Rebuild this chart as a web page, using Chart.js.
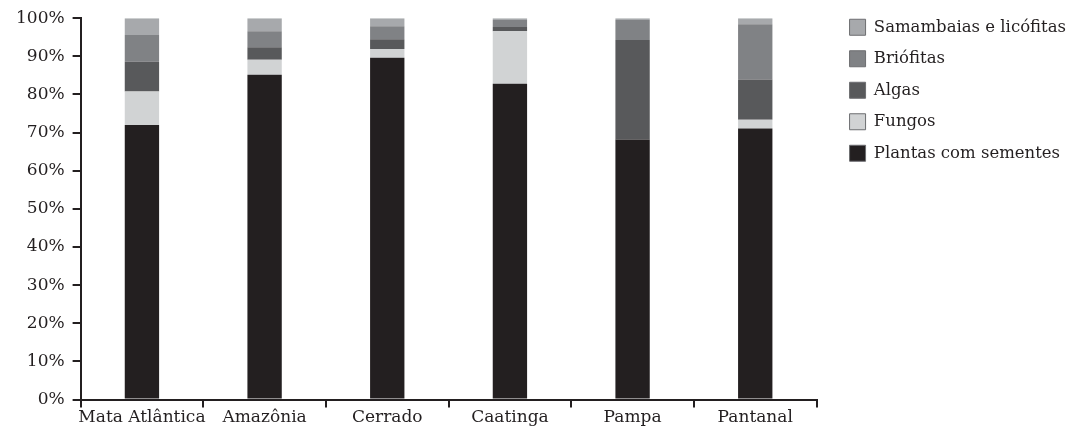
<!DOCTYPE html>
<html>
<head>
<meta charset="utf-8">
<script src="https://cdn.jsdelivr.net/npm/chart.js@4"></script>
<style>
  html, body { margin: 0; padding: 0; background: #fff; }
  #wrap { width: 1070px; height: 428px; }
</style>
</head>
<body>
<div id="wrap"><canvas id="chart" width="1070" height="428"></canvas></div>
<script>
const biomes = ['Mata Atlântica', 'Amazônia', 'Cerrado', 'Caatinga', 'Pampa', 'Pantanal'];

// percentages, bottom to top
const plantas = [72.0, 85.2, 89.6, 82.8, 68.2, 71.1];
const fungos = [8.8, 3.9, 2.3, 13.8, 0.0, 2.3];
const algas = [7.8, 3.3, 2.6, 1.1, 26.1, 10.5];
const briofitas = [7.0, 4.2, 3.4, 1.8, 5.2, 14.5];
const samambaias = [4.4, 3.4, 2.1, 0.5, 0.5, 1.6];

const yTicks = [0, 10, 20, 30, 40, 50, 60, 70, 80, 90, 100];

const font = {family: '"DejaVu Serif", serif', size: 17};
const legendFont = {family: '"DejaVu Serif", serif', size: 16.5};
Chart.defaults.color = '#231f20';

function bar(label, data, color) {
    return {
        label: label,
        data: data,
        backgroundColor: color,
        borderWidth: 0,
        categoryPercentage: 1,
        barPercentage: 0.28
    };
}

// push the legend a bit right/up so it sits where the original has it
const legendNudge = {
    id: 'legendNudge',
    afterLayout: function (chart) {
        const lg = chart.legend;
        lg.left += 18;
        lg.right += 18;
        lg.top -= 3;
        lg.bottom -= 3;
    }
};

const ctx = document.getElementById('chart').getContext('2d');

new Chart(ctx, {
    type: 'bar',
    plugins: [legendNudge],
    data: {
        labels: biomes,
        datasets: [
            bar('Plantas com sementes', plantas, '#231f20'),
            bar('Fungos', fungos, '#d1d3d4'),
            bar('Algas', algas, '#58595b'),
            bar('Briófitas', briofitas, '#808285'),
            bar('Samambaias e licófitas', samambaias, '#a7a9ac')
        ]
    },
    options: {
        responsive: false,
        animation: false,
        layout: {
            padding: {top: 7, left: 8, right: 12, bottom: 0}
        },
        plugins: {
            title: {display: false},
            tooltip: {enabled: false},
            legend: {
                position: 'right',
                align: 'start',
                reverse: true,
                labels: {
                    font: legendFont,
                    boxWidth: 16,
                    boxHeight: 16,
                    padding: 15,
                    color: '#231f20',
                    generateLabels: function (chart) {
                        const items = Chart.defaults.plugins.legend.labels.generateLabels(chart);
                        items.forEach(function (it) {
                            it.lineWidth = 1;
                            it.strokeStyle = '#6d6e71';
                        });
                        return items;
                    }
                }
            }
        },
        scales: {
            x: {
                stacked: true,
                grid: {
                    offset: true,
                    drawOnChartArea: false,
                    drawTicks: true,
                    tickLength: 8,
                    color: '#231f20',
                    lineWidth: 2
                },
                border: {display: true, color: '#231f20', width: 2},
                ticks: {font: font, color: '#231f20', padding: 0, maxRotation: 0, autoSkip: false}
            },
            y: {
                stacked: true,
                min: 0,
                max: 100,
                afterBuildTicks: function (axis) {
                    axis.ticks = yTicks.map(function (v) { return {value: v}; });
                },
                grid: {
                    drawOnChartArea: false,
                    drawTicks: true,
                    tickLength: 8,
                    color: '#231f20',
                    lineWidth: 2
                },
                border: {display: true, color: '#231f20', width: 2},
                ticks: {
                    font: font,
                    color: '#231f20',
                    padding: 8,
                    callback: function (value) {
                        return value + '%';
                    }
                }
            }
        }
    }
});
</script>
</body>
</html>
